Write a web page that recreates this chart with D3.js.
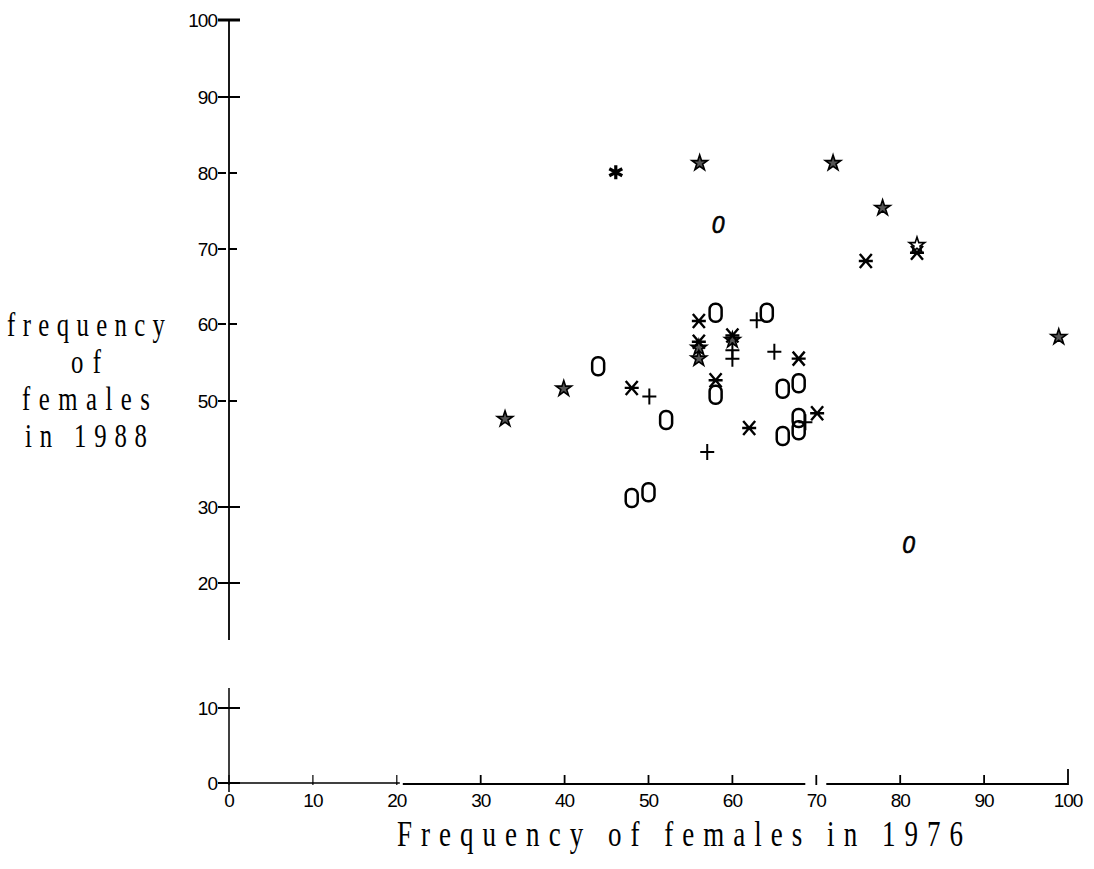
<!DOCTYPE html>
<html><head><meta charset="utf-8">
<script src="https://cdn.jsdelivr.net/npm/d3@7"></script>
<style>body{margin:0;background:#fff}</style>
</head><body><svg id="c" width="1094" height="869"></svg>
<script>
// ---- data ----
const xTicks = [0,10,20,30,40,50,60,70,80,90,100];
const yTicks = [0,10,20,30,50,60,70,80,90,100];
const starPts = [[32.9,46.6],[39.9,51.6],[56,56.9],[56,55.5],[60,57.9],[56.1,81.3],[72,81.3],[77.9,75.4],[98.9,58.3]];
const openStarPts = [[82,70.5]];
const asteriskPts = [[46.1,80.1]];
const crossPts = [[48,51.7],[56,60.4],[56,57.7],[60,58.5],[67.9,55.5],[58,52.7],[70.1,47.7],[62,44.9],[75.9,68.4],[82,69.5]];
const plusPts = [[50.1,50.6],[62.9,60.5],[60,56.6],[60,55.5],[65,56.4],[68.7,46.0],[57,40.4]];
const ovalPts = [[58,61.5],[64.1,61.5],[58,50.8],[66,51.6],[67.9,52.3],[67.9,46.8],[67.9,44.5],[66,43.4],[52.1,46.4],[48,31.7],[50,32.8],[44,54.5]];
const italicZeroPts = [[58.3,73.2],[81,25]];
const yTitleLines = ["frequency","o f","females","in 1988"];
const yTitleWidths = [158,30,128,122];
const xTitle = "Frequency of females in 1976";

// ---- scales ----
const svg = d3.select("#c");
const x = d3.scaleLinear().domain([0,100]).range([229,1068]);
const y = d3.scaleLinear().domain(yTicks).range([783,708,583,507,401,324,249,173,97,20]);

// ---- axes ----
const ax = svg.append("g").attr("stroke","#000").attr("fill","none");
ax.append("line").attr("x1",x(0)).attr("x2",x(0)).attr("y1",y(100)).attr("y2",640).attr("stroke-width",1.8);
ax.append("line").attr("x1",x(0)).attr("x2",x(0)).attr("y1",688).attr("y2",792).attr("stroke-width",1.5);
ax.append("line").attr("x1",x(0)).attr("x2",x(20)+3).attr("y1",y(0)).attr("y2",y(0)).attr("stroke-width",1.6);
ax.append("line").attr("x1",x(20)+6).attr("x2",x(70)-11).attr("y1",y(0)+1).attr("y2",y(0)+1).attr("stroke-width",2.2);
ax.append("line").attr("x1",x(70)+10).attr("x2",x(100)).attr("y1",y(0)+1).attr("y2",y(0)+1).attr("stroke-width",2.2);

ax.selectAll(".yt").data(yTicks).join("line")
  .attr("x1",x(0)-11).attr("x2",x(0)+11)
  .attr("y1",d=>y(d)).attr("y2",d=>y(d))
  .attr("stroke-width",d=>d===100?3:2)
  .attr("stroke-dasharray",d=>(d===100||d===90||d<=30)?null:"8,3");
svg.selectAll(".ytl").data(yTicks).join("text")
  .attr("x",x(0)-12).attr("y",d=>y(d)).attr("dy","0.36em")
  .attr("text-anchor","end").attr("font-family","Liberation Sans, Arial, sans-serif")
  .attr("font-size",19).attr("letter-spacing",-1).text(d=>d);

ax.selectAll(".xt").data(xTicks).join("line")
  .attr("x1",d=>x(d)).attr("x2",d=>x(d))
  .attr("y1",d=>y(0)-(d===100?14:8)).attr("y2",y(0)+2)
  .attr("stroke-width",d=>d===0||d===10||d===20?1.2:1.8);
svg.selectAll(".xtl").data(xTicks).join("text")
  .attr("x",d=>x(d)).attr("y",y(0)+24)
  .attr("text-anchor","middle").attr("font-family","Liberation Sans, Arial, sans-serif")
  .attr("font-size",19).attr("letter-spacing",-1).text(d=>d);

// titles (condensed serif)
const sx = 0.75;
svg.append("text").attr("transform",`translate(680,846) scale(${sx},1)`).attr("text-anchor","middle")
  .attr("font-family","Liberation Serif, Times New Roman, serif").attr("font-size",36)
  .attr("textLength",566/sx).attr("lengthAdjust","spacing").text(xTitle);
svg.selectAll(".ytt").data(yTitleLines).join("text")
  .attr("transform",(d,i)=>`translate(86,${336+i*37}) scale(${sx},1)`).attr("text-anchor","middle")
  .attr("font-family","Liberation Serif, Times New Roman, serif").attr("font-size",33)
  .attr("textLength",(d,i)=>yTitleWidths[i]/sx).attr("lengthAdjust","spacing").text(d=>d);

// ---- marks ----
const m = svg.append("g");
const starPath = d3.symbol(d3.symbolStar, 75)();
m.selectAll(".star").data(starPts).join("path").attr("d",starPath)
  .attr("transform",d=>`translate(${x(d[0])},${y(d[1])})`)
  .attr("fill","#555").attr("stroke","#000").attr("stroke-width",1.6);
m.selectAll(".ostar").data(openStarPts).join("path").attr("d",starPath)
  .attr("transform",d=>`translate(${x(d[0])},${y(d[1])})`)
  .attr("fill","#fff").attr("stroke","#000").attr("stroke-width",1.6);
const astPath = "M0,-7L0,7M-6.5,-3.5L6.5,3.5M-6.5,3.5L6.5,-3.5";
m.selectAll(".ast").data(asteriskPts).join("path").attr("d",astPath)
  .attr("transform",d=>`translate(${x(d[0])},${y(d[1])})`)
  .attr("fill","none").attr("stroke","#000").attr("stroke-width",3.2);
const crossPath = "M-6,-7L6,7M-6,7L6,-7M-7,0L7,0";
m.selectAll(".cr").data(crossPts).join("path").attr("d",crossPath)
  .attr("transform",d=>`translate(${x(d[0])},${y(d[1])})`)
  .attr("fill","none").attr("stroke","#000").attr("stroke-width",2.4);
const plusPath = "M-7,0L7,0M0,-8L0,8";
m.selectAll(".pl").data(plusPts).join("path").attr("d",plusPath)
  .attr("transform",d=>`translate(${x(d[0])},${y(d[1])})`)
  .attr("fill","none").attr("stroke","#000").attr("stroke-width",2);
m.selectAll(".ov").data(ovalPts).join("rect")
  .attr("x",d=>x(d[0])-6).attr("y",d=>y(d[1])-9).attr("width",12).attr("height",18)
  .attr("rx",5.5).attr("ry",5.5)
  .attr("fill","none").attr("stroke","#000").attr("stroke-width",2.5);
m.selectAll(".iz").data(italicZeroPts).join("text")
  .attr("x",d=>x(d[0])).attr("y",d=>y(d[1])).attr("dy","0.36em").attr("text-anchor","middle")
  .attr("font-family","Liberation Sans, Arial, sans-serif").attr("font-style","italic")
  .attr("stroke","#000").attr("stroke-width",0.6).attr("font-size",23).text("0");
</script></body></html>
